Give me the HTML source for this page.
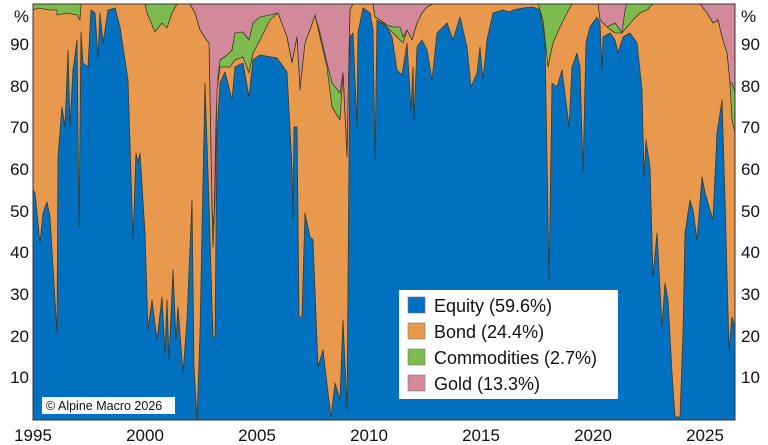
<!DOCTYPE html>
<html><head><meta charset="utf-8"><style>
html,body{margin:0;padding:0;background:#fff;}
svg{display:block;font-family:"Liberation Sans",Arial,sans-serif;}
</style></head><body>
<svg width="768" height="445" viewBox="0 0 768 445" xmlns="http://www.w3.org/2000/svg">
<defs><clipPath id="c"><rect x="33" y="4" width="702" height="416"/></clipPath></defs>
<g clip-path="url(#c)" stroke="#3a3a2a" stroke-width="0.8" stroke-linejoin="round">
<rect x="33" y="4" width="702" height="416" fill="#D4899A" stroke="none"/>
<polygon fill="#7DBB4F" points="33,4 190,4 195,13 200,30 205,38 209,43 212,207 214,230 216,120 218,77 220,60 227,55 232,50 235,33 243,32 249,40 253,23 260,17 270,15 278,13 287,37 292,63 297,37 300,90 305,43 310,30 315,15 320,33 327,63 332,83 340,93 343,73 347,157 350,10 353,4 373,4 375,17 380,20 387,25 393,27 400,27 403,37 407,30 412,40 417,23 422,13 427,7 433,4 598,4 600,20 607,27 615,23 622,33 625,10 627,4 700,4 707,13 713,23 718,20 722,37 727,53 730,83 732,83 735,93 735,420 33,420"/>
<polygon fill="#E8994D" points="33,10 38,8 50,10 57,10 57,15 67,13 77,15 80,20 81,4 145,4 147,13 155,32 162,23 167,28 172,13 177,4 190,4 195,13 200,30 205,38 209,43 212,207 213,247 215,200 217,90 220,67 230,67 235,60 243,57 249,73 253,53 260,40 270,20 278,13 287,37 292,63 297,37 300,90 305,43 310,30 315,15 320,37 327,67 332,107 340,120 343,73 347,157 350,10 353,4 373,4 375,17 380,20 387,27 393,33 400,40 403,43 407,30 412,40 417,23 422,13 427,7 433,4 538,4 543,20 548,67 553,43 560,27 567,13 572,4 598,4 600,20 607,27 615,33 622,33 627,27 633,20 640,13 647,10 653,4 700,4 707,13 713,23 718,20 722,37 727,53 730,83 732,120 735,133 735,420 33,420"/>
<polygon fill="#0070C0" points="33,190 35,193 40,243 43,213 47,202 50,217 57,333 58,157 62,107 65,127 68,50 70,127 73,70 77,40 79,227 81,32 83,63 88,67 91,10 95,13 98,58 100,13 103,43 108,10 115,8 120,27 128,80 133,240 136,153 138,163 140,153 145,233 148,330 152,300 157,340 162,297 165,353 167,300 169,360 173,270 176,340 178,307 183,373 187,320 192,200 194,367 197,420 200,333 205,83 208,173 213,337 215,337 217,133 220,83 225,72 232,100 235,67 243,63 249,97 253,60 260,55 277,58 287,72 292,167 293,220 294,127 297,127 299,317 302,317 305,213 310,237 313,240 318,367 323,350 328,393 331,417 335,383 340,400 343,320 347,410 350,37 353,33 357,127 358,33 363,8 370,13 373,30 375,160 377,20 387,27 392,37 397,70 402,75 407,43 411,110 413,67 414,120 417,47 422,40 427,50 432,80 437,33 447,23 453,40 460,17 467,47 471,87 477,73 480,47 483,80 487,40 493,13 503,10 510,12 513,10 523,8 533,7 540,10 545,40 549,280 552,83 557,87 562,70 567,110 569,127 572,67 577,53 580,67 583,173 586,43 590,27 597,17 600,23 602,70 603,37 610,33 615,40 618,53 623,37 630,33 637,43 642,90 644,177 646,140 650,167 653,277 657,233 662,327 665,283 668,300 672,373 675,417 680,417 683,333 685,233 690,200 693,210 697,240 702,177 705,193 710,210 713,220 717,133 722,100 725,200 729,350 732,317 735,327 735,420 33,420"/>
</g>
<rect x="33" y="4" width="702" height="416" fill="none" stroke="#333" stroke-width="1"/>
<rect x="42" y="397" width="133" height="17" fill="#fff"/>
<text x="46" y="410" font-size="12.5" fill="#111">© Alpine Macro 2026</text>
<rect x="399" y="290" width="219" height="109" fill="#fff"/>
<g stroke="#777" stroke-width="0.6">
<rect x="408" y="297" width="17" height="16" fill="#0070C0"/>
<rect x="408" y="323" width="17" height="16" fill="#E8994D"/>
<rect x="408" y="349" width="17" height="16" fill="#7DBB4F"/>
<rect x="408" y="375" width="17" height="16" fill="#D4899A"/>
</g>
<g font-size="18" fill="#111">
<text x="434" y="312">Equity (59.6%)</text>
<text x="434" y="338">Bond (24.4%)</text>
<text x="434" y="364">Commodities (2.7%)</text>
<text x="434" y="390">Gold (13.3%)</text>
</g>
<g font-size="17" fill="#111" text-anchor="end">
<text x="29" y="22">%</text>
<text x="29" y="50">90</text><text x="29" y="92">80</text><text x="29" y="133">70</text><text x="29" y="175">60</text><text x="29" y="217">50</text><text x="29" y="258">40</text><text x="29" y="300">30</text><text x="29" y="342">20</text><text x="29" y="383">10</text>
</g>
<g font-size="17" fill="#111" text-anchor="start">
<text x="741" y="22">%</text>
<text x="741" y="50">90</text><text x="741" y="92">80</text><text x="741" y="133">70</text><text x="741" y="175">60</text><text x="741" y="217">50</text><text x="741" y="258">40</text><text x="741" y="300">30</text><text x="741" y="342">20</text><text x="741" y="383">10</text>
</g>
<g font-size="17" fill="#111" text-anchor="middle">
<text x="33" y="441">1995</text><text x="145" y="441">2000</text><text x="257" y="441">2005</text><text x="369" y="441">2010</text><text x="481" y="441">2015</text><text x="593" y="441">2020</text><text x="705" y="441">2025</text>
</g>
</svg>
</body></html>
